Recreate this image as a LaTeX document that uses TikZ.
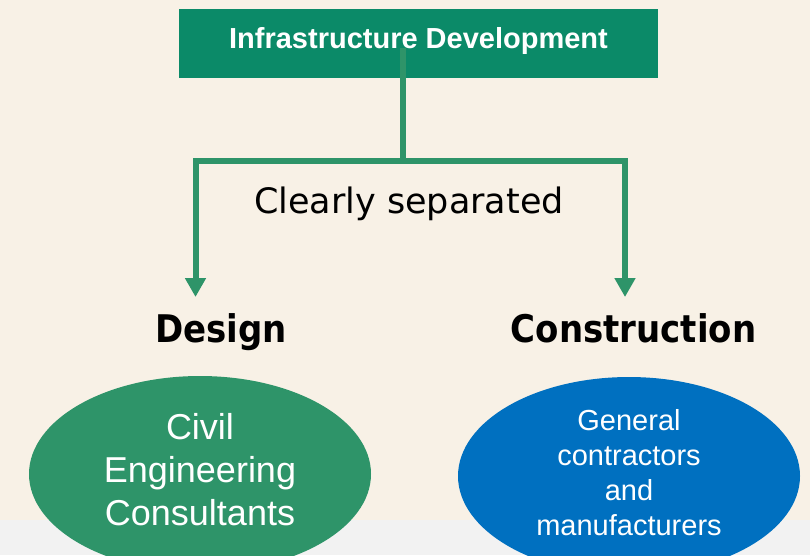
\documentclass[tikz,border=0pt]{standalone}
\usepackage{fontspec}
\setmainfont{Liberation Sans}
\newfontfamily\dejavu{DejaVu Sans}
\usetikzlibrary{shapes.geometric,arrows.meta}
\definecolor{cream}{HTML}{F8F1E6}
\definecolor{greyband}{HTML}{F2F2F2}
\definecolor{boxgreen}{HTML}{0B8A68}
\definecolor{linegreen}{HTML}{2E9469}
\definecolor{ellgreen}{HTML}{2E9469}
\definecolor{ellblue}{HTML}{0070C0}
\tikzset{
  topbox/.style={rectangle, fill=boxgreen, minimum width=479pt, minimum height=69pt, inner sep=0pt,
    text=white, font=\fontsize{29}{34}\selectfont\bfseries},
  connector/.style={draw=linegreen, line width=6pt, line join=miter, -{Triangle[width=20pt,length=19pt]}},
  stem/.style={draw=linegreen, line width=6pt, line join=miter},
  headtext/.style={anchor=base, text=black, font=\dejavu\bfseries\fontsize{34}{40}\selectfont},
  midtext/.style={anchor=base, text=black, font=\dejavu\fontsize{35}{40}\selectfont},
  bubble/.style={ellipse, minimum width=342pt, minimum height=196pt, inner sep=0pt, align=center, text=white},
}
\begin{document}
\begin{tikzpicture}[x=1pt,y=-1pt]
\useasboundingbox (0,0) rectangle (810,555);
\clip (0,0) rectangle (810,555);
\fill[cream] (0,0) rectangle (810,520);
\fill[greyband] (0,520) rectangle (810,555);

\node[topbox] (top) at (418.5,43.5) {\raisebox{-4.5pt}[0pt][0pt]{Infrastructure Development}};

\coordinate (stemtop) at (403,48);
\coordinate (split) at (403,161);
\coordinate (lcorner) at (195.5,161);
\coordinate (rcorner) at (625,161);
\coordinate (ltip) at (195.5,297);
\coordinate (rtip) at (625,297);

\draw[stem] (stemtop) -- (split);
\draw[connector] (split) -- (lcorner) -- (ltip);
\draw[connector] (split) -- (rcorner) -- (rtip);

\node[midtext] (sep) at (409,213) {Clearly separated};
\node[headtext] (design) at (221,342) {\scalebox{1}[1.12]{Design}};
\node[headtext] (constr) at (633.5,342) {\scalebox{1}[1.12]{Construction}};

\node[bubble, fill=ellgreen, font=\fontsize{36}{43}\selectfont] (civil) at (200,474)
  {\raisebox{4pt}{\begin{tabular}{@{}c@{}}Civil\\Engineering\\Consultants\end{tabular}}};
\node[bubble, fill=ellblue, font=\fontsize{29}{35}\selectfont] (gen) at (629,476)
  {\raisebox{3.5pt}{\begin{tabular}{@{}c@{}}General\\contractors\\and\\manufacturers\end{tabular}}};
\end{tikzpicture}
\end{document}
